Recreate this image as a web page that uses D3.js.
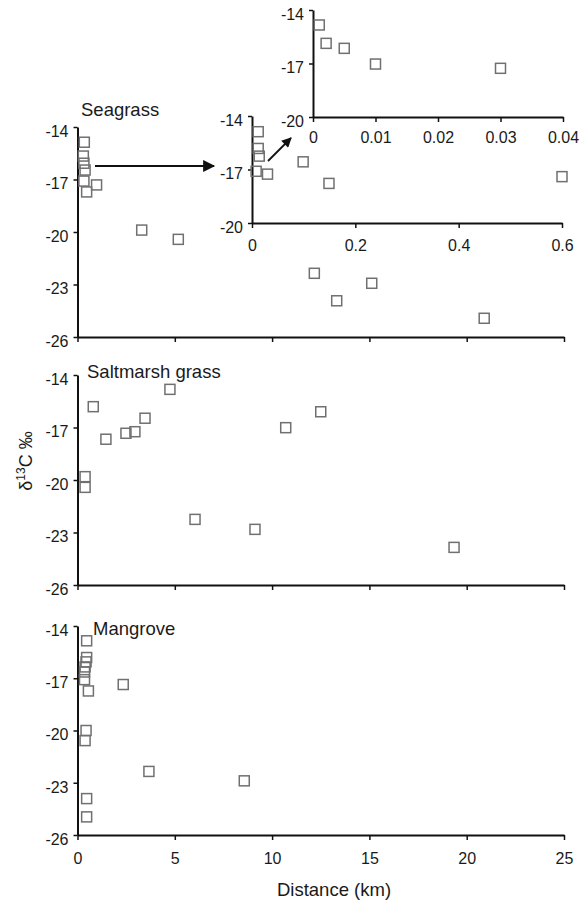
<!DOCTYPE html>
<html>
<head>
<meta charset="utf-8">
<script src="https://cdn.jsdelivr.net/npm/d3@7"></script>
<style>
  body { margin: 0; background: #fff; }
  text { font-family: Arial, "Liberation Sans", sans-serif; fill: #1a1a1a; }
</style>
</head>
<body>
<svg id="chart" width="585" height="905"></svg>
<script>
// values: [distance km, d13C permil]
const seagrass = [
    [0.35, -14.87], [0.30, -15.66], [0.33, -16.07], [0.39, -16.46], [0.33, -17.09],
    [0.98, -17.31], [0.47, -17.71], [3.30, -19.89], [5.18, -20.42], [12.17, -22.36],
    [13.32, -23.93], [15.12, -22.93], [20.90, -24.93]
];
const saltmarsh = [
    [0.39, -19.81], [0.39, -20.42], [0.81, -15.81], [1.46, -17.67], [2.49, -17.33],
    [2.95, -17.24], [3.47, -16.47], [4.75, -14.82], [6.04, -22.25], [9.12, -22.82],
    [10.70, -17.01], [12.50, -16.10], [19.35, -23.85]
];
const mangrove = [
    [0.47, -14.85], [0.47, -15.81], [0.44, -16.06], [0.39, -16.35], [0.36, -16.64],
    [0.36, -17.08], [0.56, -17.73], [2.35, -17.36], [0.44, -20.00], [0.39, -20.58],
    [3.67, -22.35], [8.57, -22.89], [0.47, -23.91], [0.47, -24.96]
];
// seagrass close to shore, first inset (0-0.6 km) and second inset (0-0.04 km)
const seagrassNear = [
    [0.012, -14.88], [0.012, -15.82], [0.014, -16.25], [0.008, -17.10], [0.030, -17.26],
    [0.099, -16.57], [0.149, -17.78], [0.600, -17.40]
];
const seagrassNearest = [
    [0.001, -14.84], [0.0021, -15.87], [0.005, -16.15], [0.010, -17.03], [0.030, -17.27]
];

const panelTitles = ["Seagrass", "Saltmarsh grass", "Mangrove"];
const xTicks = [0, 5, 10, 15, 20, 25];
const yTicks = [-14, -17, -20, -23, -26];
const nearXTicks = [0, 0.2, 0.4, 0.6];
const nearestXTicks = [0, 0.01, 0.02, 0.03, 0.04];
const insetYTicks = [-14, -17, -20];

const svg = d3.select("#chart");

svg.append("defs").append("marker")
    .attr("id", "head")
    .attr("viewBox", "0 0 10 10")
    .attr("refX", 9).attr("refY", 5)
    .attr("markerWidth", 6.5).attr("markerHeight", 5.5)
    .attr("markerUnits", "strokeWidth")
    .attr("orient", "auto")
    .append("path")
    .attr("d", "M0,0 L10,5 L0,10 z")
    .attr("fill", "#111");

const x = d3.scaleLinear().domain([0, 25]).range([77.5, 564]);
const plain = d => String(d); // keep the plain hyphen minus

function styleAxis(g, fs) {
    g.select(".domain").attr("stroke", "#111").attr("stroke-width", 2);
    g.selectAll(".tick line").attr("stroke", "#111").attr("stroke-width", 1.5);
    g.selectAll(".tick text")
        .style("font-family", "Arial, 'Liberation Sans', sans-serif")
        .style("font-size", fs + "px")
        .attr("fill", "#1a1a1a");
}

function drawSquares(g, data, xs, ys) {
    g.selectAll("rect.pt")
        .data(data)
        .enter()
        .append("rect")
        .attr("class", "pt")
        .attr("x", d => xs(d[0]) - 5)
        .attr("y", d => ys(d[1]) - 5)
        .attr("width", 10)
        .attr("height", 10)
        .attr("fill", "none")
        .attr("stroke", "#707070")
        .attr("stroke-width", 1.5);
}

// main panels
const panels = [
    { data: seagrass, top: 127, bottom: 337, title: panelTitles[0], tx: 81, ty: 116 },
    { data: saltmarsh, top: 375, bottom: 585, title: panelTitles[1], tx: 87, ty: 378 },
    { data: mangrove, top: 626, bottom: 835, title: panelTitles[2], tx: 93, ty: 635 }
];

panels.forEach((p, i) => {
    const y = d3.scaleLinear().domain([-26, -14]).range([p.bottom, p.top]);
    const g = svg.append("g");

    const ya = g.append("g")
        .attr("transform", `translate(${x(0)},0)`)
        .call(d3.axisLeft(y).tickValues(yTicks).tickSize(4).tickSizeOuter(0).tickPadding(5).tickFormat(plain));
    ya.selectAll(".tick text").attr("dy", "0.58em");
    styleAxis(ya, 16);

    const xa = g.append("g")
        .attr("transform", `translate(0,${p.bottom})`)
        .call(d3.axisBottom(x).tickValues(xTicks).tickSize(5).tickSizeOuter(0).tickPadding(13)
            .tickFormat(i === 2 ? plain : () => ""));
    styleAxis(xa, 16);

    drawSquares(g, p.data, x, y);

    g.append("text")
        .attr("x", p.tx).attr("y", p.ty)
        .style("font-size", "18.5px")
        .text(p.title);
});

// inset 1: 0 - 0.6 km
const xNear = d3.scaleLinear().domain([0, 0.6]).range([252, 562]);
const yNear = d3.scaleLinear().domain([-20, -14]).range([223, 116]);
const gNear = svg.append("g");
const nya = gNear.append("g").attr("transform", `translate(${xNear(0)},0)`)
    .call(d3.axisLeft(yNear).tickValues(insetYTicks).tickSize(4).tickSizeOuter(0).tickPadding(5).tickFormat(plain));
nya.selectAll(".tick text").attr("dy", "0.58em");
styleAxis(nya, 16);
const nxa = gNear.append("g").attr("transform", `translate(0,${yNear(-20)})`)
    .call(d3.axisBottom(xNear).tickValues(nearXTicks).tickSize(5).tickSizeOuter(0).tickPadding(12)
        .tickFormat(d => d === 0 ? "0" : d3.format(".1f")(d)));
styleAxis(nxa, 16);
drawSquares(gNear, seagrassNear, xNear, yNear);

// inset 2: 0 - 0.04 km
const xNearest = d3.scaleLinear().domain([0, 0.04]).range([313, 563]);
const yNearest = d3.scaleLinear().domain([-20, -14]).range([117, 10]);
const gNearest = svg.append("g");
const tya = gNearest.append("g").attr("transform", `translate(${xNearest(0)},0)`)
    .call(d3.axisLeft(yNearest).tickValues(insetYTicks).tickSize(4).tickSizeOuter(0).tickPadding(5).tickFormat(plain));
tya.selectAll(".tick text").attr("dy", "0.58em");
styleAxis(tya, 16);
const txa = gNearest.append("g").attr("transform", `translate(0,${yNearest(-20)})`)
    .call(d3.axisBottom(xNearest).tickValues(nearestXTicks).tickSize(5).tickSizeOuter(0).tickPadding(10)
        .tickFormat(d => d === 0 ? "0" : d3.format(".2f")(d)));
styleAxis(txa, 16);
drawSquares(gNearest, seagrassNearest, xNearest, yNearest);

// zoom arrows
svg.append("line")
    .attr("x1", 95).attr("y1", 166).attr("x2", 214).attr("y2", 166)
    .attr("stroke", "#111").attr("stroke-width", 2.2)
    .attr("marker-end", "url(#head)");
svg.append("line")
    .attr("x1", 268).attr("y1", 161).attr("x2", 291).attr("y2", 138)
    .attr("stroke", "#111").attr("stroke-width", 1.8)
    .attr("marker-end", "url(#head)");

// axis titles
const yLab = svg.append("text")
    .attr("transform", "translate(32,461) rotate(-90)")
    .attr("text-anchor", "middle")
    .style("font-size", "18px");
yLab.append("tspan").text("δ");
yLab.append("tspan").attr("baseline-shift", "super").style("font-size", "12px").text("13");
yLab.append("tspan").text("C ‰");

svg.append("text")
    .attr("x", 334).attr("y", 896)
    .attr("text-anchor", "middle")
    .style("font-size", "18.5px")
    .text("Distance (km)");
</script>
</body>
</html>
